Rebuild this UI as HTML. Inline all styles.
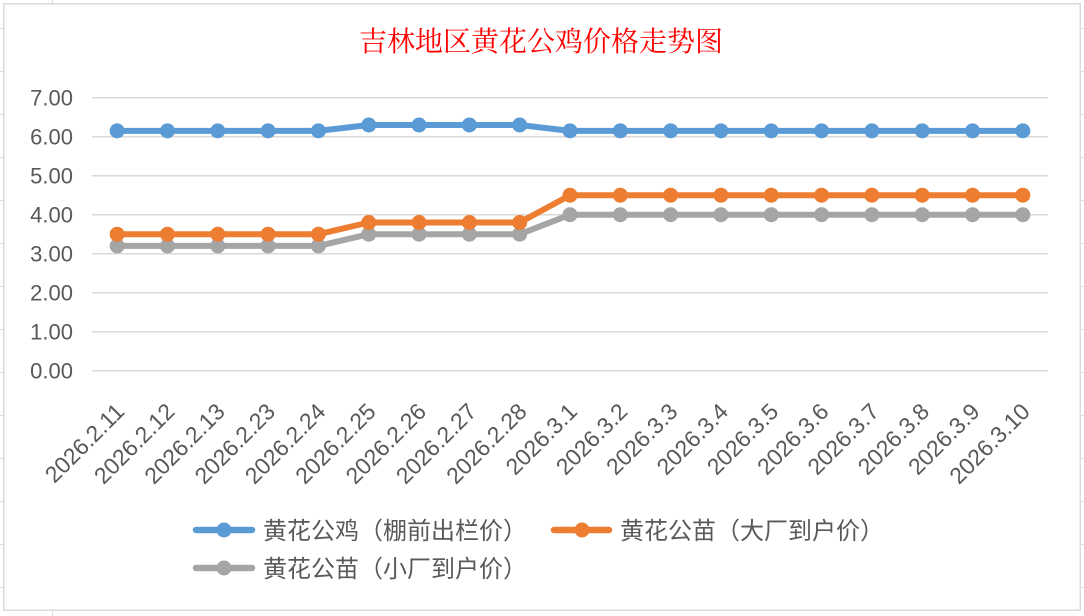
<!DOCTYPE html>
<html>
<head>
<meta charset="utf-8">
<style>
  html, body { margin: 0; padding: 0; background: #ffffff; }
  body { width: 1084px; height: 616px; overflow: hidden; }
  svg { display: block; }
  .yl { font-family: "Liberation Sans", sans-serif; font-size: 22px; fill: #595959; }
  .xl { font-family: "Liberation Sans", sans-serif; font-size: 23px; fill: #595959; }
  .lg { font-family: "Liberation Sans", "Noto Sans CJK SC", sans-serif; font-size: 24px; fill: #595959; }
  .tt { font-family: "Liberation Serif", "Noto Serif CJK SC", serif; font-size: 28px; fill: #ff0000; }
</style>
</head>
<body>
<svg width="1084" height="616" viewBox="0 0 1084 616" xmlns="http://www.w3.org/2000/svg">
  <rect x="0" y="0" width="1084" height="616" fill="#ffffff"/>
  <g stroke="#dcdcdc" stroke-width="1">
    <line x1="0" y1="28.5" x2="3" y2="28.5"/><line x1="0" y1="71.5" x2="3" y2="71.5"/>
    <line x1="0" y1="114.5" x2="3" y2="114.5"/><line x1="0" y1="157.5" x2="3" y2="157.5"/>
    <line x1="0" y1="200.5" x2="3" y2="200.5"/><line x1="0" y1="243.5" x2="3" y2="243.5"/>
    <line x1="0" y1="286.5" x2="3" y2="286.5"/><line x1="0" y1="329.5" x2="3" y2="329.5"/>
    <line x1="0" y1="372.5" x2="3" y2="372.5"/><line x1="0" y1="415.5" x2="3" y2="415.5"/>
    <line x1="0" y1="458.5" x2="3" y2="458.5"/><line x1="0" y1="501.5" x2="3" y2="501.5"/>
    <line x1="0" y1="544.5" x2="3" y2="544.5"/><line x1="0" y1="587.5" x2="3" y2="587.5"/>
    <line x1="1081" y1="28.5" x2="1084" y2="28.5"/><line x1="1081" y1="71.5" x2="1084" y2="71.5"/>
    <line x1="1081" y1="114.5" x2="1084" y2="114.5"/><line x1="1081" y1="157.5" x2="1084" y2="157.5"/>
    <line x1="1081" y1="200.5" x2="1084" y2="200.5"/><line x1="1081" y1="243.5" x2="1084" y2="243.5"/>
    <line x1="1081" y1="286.5" x2="1084" y2="286.5"/><line x1="1081" y1="329.5" x2="1084" y2="329.5"/>
    <line x1="1081" y1="372.5" x2="1084" y2="372.5"/><line x1="1081" y1="415.5" x2="1084" y2="415.5"/>
    <line x1="1081" y1="458.5" x2="1084" y2="458.5"/><line x1="1081" y1="501.5" x2="1084" y2="501.5"/>
    <line x1="1081" y1="544.5" x2="1084" y2="544.5"/><line x1="1081" y1="587.5" x2="1084" y2="587.5"/>
    <line x1="52.5" y1="0" x2="52.5" y2="3"/>
    <line x1="52.5" y1="611" x2="52.5" y2="616"/>
  </g>
  <rect x="3.75" y="3.75" width="1076.5" height="606.5" fill="#ffffff" stroke="#d9d9d9" stroke-width="1.5"/>

  <text class="tt" x="541" y="51" text-anchor="middle">吉林地区黄花公鸡价格走势图</text>

  <g stroke="#d9d9d9" stroke-width="1.5">
    <line x1="92" y1="97.7" x2="1048" y2="97.7"/>
    <line x1="92" y1="136.7" x2="1048" y2="136.7"/>
    <line x1="92" y1="175.7" x2="1048" y2="175.7"/>
    <line x1="92" y1="214.7" x2="1048" y2="214.7"/>
    <line x1="92" y1="253.7" x2="1048" y2="253.7"/>
    <line x1="92" y1="292.7" x2="1048" y2="292.7"/>
    <line x1="92" y1="331.7" x2="1048" y2="331.7"/>
    <line x1="92" y1="370.7" x2="1048" y2="370.7"/>
  </g>

  <g class="yl" text-anchor="end">
    <text x="73" y="105.7">7.00</text>
    <text x="73" y="144.7">6.00</text>
    <text x="73" y="183.7">5.00</text>
    <text x="73" y="222.7">4.00</text>
    <text x="73" y="261.7">3.00</text>
    <text x="73" y="300.7">2.00</text>
    <text x="73" y="339.7">1.00</text>
    <text x="73" y="378.7">0.00</text>
  </g>

  <g class="xl" text-anchor="end">
    <text transform="translate(125.7,413) rotate(-45)">2026.2.11</text>
    <text transform="translate(176.0,413) rotate(-45)">2026.2.12</text>
    <text transform="translate(226.3,413) rotate(-45)">2026.2.13</text>
    <text transform="translate(276.6,413) rotate(-45)">2026.2.23</text>
    <text transform="translate(326.9,413) rotate(-45)">2026.2.24</text>
    <text transform="translate(377.2,413) rotate(-45)">2026.2.25</text>
    <text transform="translate(427.6,413) rotate(-45)">2026.2.26</text>
    <text transform="translate(477.9,413) rotate(-45)">2026.2.27</text>
    <text transform="translate(528.2,413) rotate(-45)">2026.2.28</text>
    <text transform="translate(578.5,413) rotate(-45)">2026.3.1</text>
    <text transform="translate(628.8,413) rotate(-45)">2026.3.2</text>
    <text transform="translate(679.1,413) rotate(-45)">2026.3.3</text>
    <text transform="translate(729.5,413) rotate(-45)">2026.3.4</text>
    <text transform="translate(779.8,413) rotate(-45)">2026.3.5</text>
    <text transform="translate(830.1,413) rotate(-45)">2026.3.6</text>
    <text transform="translate(880.4,413) rotate(-45)">2026.3.7</text>
    <text transform="translate(930.7,413) rotate(-45)">2026.3.8</text>
    <text transform="translate(981.0,413) rotate(-45)">2026.3.9</text>
    <text transform="translate(1031.3,413) rotate(-45)">2026.3.10</text>
  </g>

  <g>
    <polyline fill="none" stroke="#a5a5a5" stroke-width="6" stroke-linejoin="round" stroke-linecap="round"
      points="117.16,245.9 167.47,245.9 217.79,245.9 268.11,245.9 318.42,245.9 368.74,234.2 419.05,234.2 469.37,234.2 519.68,234.2 570,214.7 620.32,214.7 670.63,214.7 720.95,214.7 771.26,214.7 821.58,214.7 871.89,214.7 922.21,214.7 972.53,214.7 1022.84,214.7"/>
    <g fill="#a5a5a5">
      <circle cx="117.16" cy="245.9" r="7.5"/><circle cx="167.47" cy="245.9" r="7.5"/><circle cx="217.79" cy="245.9" r="7.5"/>
      <circle cx="268.11" cy="245.9" r="7.5"/><circle cx="318.42" cy="245.9" r="7.5"/><circle cx="368.74" cy="234.2" r="7.5"/>
      <circle cx="419.05" cy="234.2" r="7.5"/><circle cx="469.37" cy="234.2" r="7.5"/><circle cx="519.68" cy="234.2" r="7.5"/>
      <circle cx="570" cy="214.7" r="7.5"/><circle cx="620.32" cy="214.7" r="7.5"/><circle cx="670.63" cy="214.7" r="7.5"/>
      <circle cx="720.95" cy="214.7" r="7.5"/><circle cx="771.26" cy="214.7" r="7.5"/><circle cx="821.58" cy="214.7" r="7.5"/>
      <circle cx="871.89" cy="214.7" r="7.5"/><circle cx="922.21" cy="214.7" r="7.5"/><circle cx="972.53" cy="214.7" r="7.5"/>
      <circle cx="1022.84" cy="214.7" r="7.5"/>
    </g>
  </g>

  <g>
    <polyline fill="none" stroke="#ed7d31" stroke-width="6" stroke-linejoin="round" stroke-linecap="round"
      points="117.16,234.2 167.47,234.2 217.79,234.2 268.11,234.2 318.42,234.2 368.74,222.5 419.05,222.5 469.37,222.5 519.68,222.5 570,195.2 620.32,195.2 670.63,195.2 720.95,195.2 771.26,195.2 821.58,195.2 871.89,195.2 922.21,195.2 972.53,195.2 1022.84,195.2"/>
    <g fill="#ed7d31">
      <circle cx="117.16" cy="234.2" r="7.5"/><circle cx="167.47" cy="234.2" r="7.5"/><circle cx="217.79" cy="234.2" r="7.5"/>
      <circle cx="268.11" cy="234.2" r="7.5"/><circle cx="318.42" cy="234.2" r="7.5"/><circle cx="368.74" cy="222.5" r="7.5"/>
      <circle cx="419.05" cy="222.5" r="7.5"/><circle cx="469.37" cy="222.5" r="7.5"/><circle cx="519.68" cy="222.5" r="7.5"/>
      <circle cx="570" cy="195.2" r="7.5"/><circle cx="620.32" cy="195.2" r="7.5"/><circle cx="670.63" cy="195.2" r="7.5"/>
      <circle cx="720.95" cy="195.2" r="7.5"/><circle cx="771.26" cy="195.2" r="7.5"/><circle cx="821.58" cy="195.2" r="7.5"/>
      <circle cx="871.89" cy="195.2" r="7.5"/><circle cx="922.21" cy="195.2" r="7.5"/><circle cx="972.53" cy="195.2" r="7.5"/>
      <circle cx="1022.84" cy="195.2" r="7.5"/>
    </g>
  </g>

  <g>
    <polyline fill="none" stroke="#5b9bd5" stroke-width="6" stroke-linejoin="round" stroke-linecap="round"
      points="117.16,130.85 167.47,130.85 217.79,130.85 268.11,130.85 318.42,130.85 368.74,125 419.05,125 469.37,125 519.68,125 570,130.85 620.32,130.85 670.63,130.85 720.95,130.85 771.26,130.85 821.58,130.85 871.89,130.85 922.21,130.85 972.53,130.85 1022.84,130.85"/>
    <g fill="#5b9bd5">
      <circle cx="117.16" cy="130.85" r="7.5"/><circle cx="167.47" cy="130.85" r="7.5"/><circle cx="217.79" cy="130.85" r="7.5"/>
      <circle cx="268.11" cy="130.85" r="7.5"/><circle cx="318.42" cy="130.85" r="7.5"/><circle cx="368.74" cy="125" r="7.5"/>
      <circle cx="419.05" cy="125" r="7.5"/><circle cx="469.37" cy="125" r="7.5"/><circle cx="519.68" cy="125" r="7.5"/>
      <circle cx="570" cy="130.85" r="7.5"/><circle cx="620.32" cy="130.85" r="7.5"/><circle cx="670.63" cy="130.85" r="7.5"/>
      <circle cx="720.95" cy="130.85" r="7.5"/><circle cx="771.26" cy="130.85" r="7.5"/><circle cx="821.58" cy="130.85" r="7.5"/>
      <circle cx="871.89" cy="130.85" r="7.5"/><circle cx="922.21" cy="130.85" r="7.5"/><circle cx="972.53" cy="130.85" r="7.5"/>
      <circle cx="1022.84" cy="130.85" r="7.5"/>
    </g>
  </g>

  <g>
    <line x1="196" y1="530" x2="252" y2="530" stroke="#5b9bd5" stroke-width="6.5" stroke-linecap="round"/>
    <circle cx="224" cy="530" r="7.5" fill="#5b9bd5"/>
    <text class="lg" x="263" y="539">黄花公鸡（棚前出栏价）</text>

    <line x1="554" y1="530" x2="609" y2="530" stroke="#ed7d31" stroke-width="6.5" stroke-linecap="round"/>
    <circle cx="582" cy="530" r="7.5" fill="#ed7d31"/>
    <text class="lg" x="620" y="539">黄花公苗（大厂到户价）</text>

    <line x1="196" y1="568" x2="252" y2="568" stroke="#a5a5a5" stroke-width="6.5" stroke-linecap="round"/>
    <circle cx="224" cy="568" r="7.5" fill="#a5a5a5"/>
    <text class="lg" x="263" y="577">黄花公苗（小厂到户价）</text>
  </g>
</svg>
</body>
</html>
